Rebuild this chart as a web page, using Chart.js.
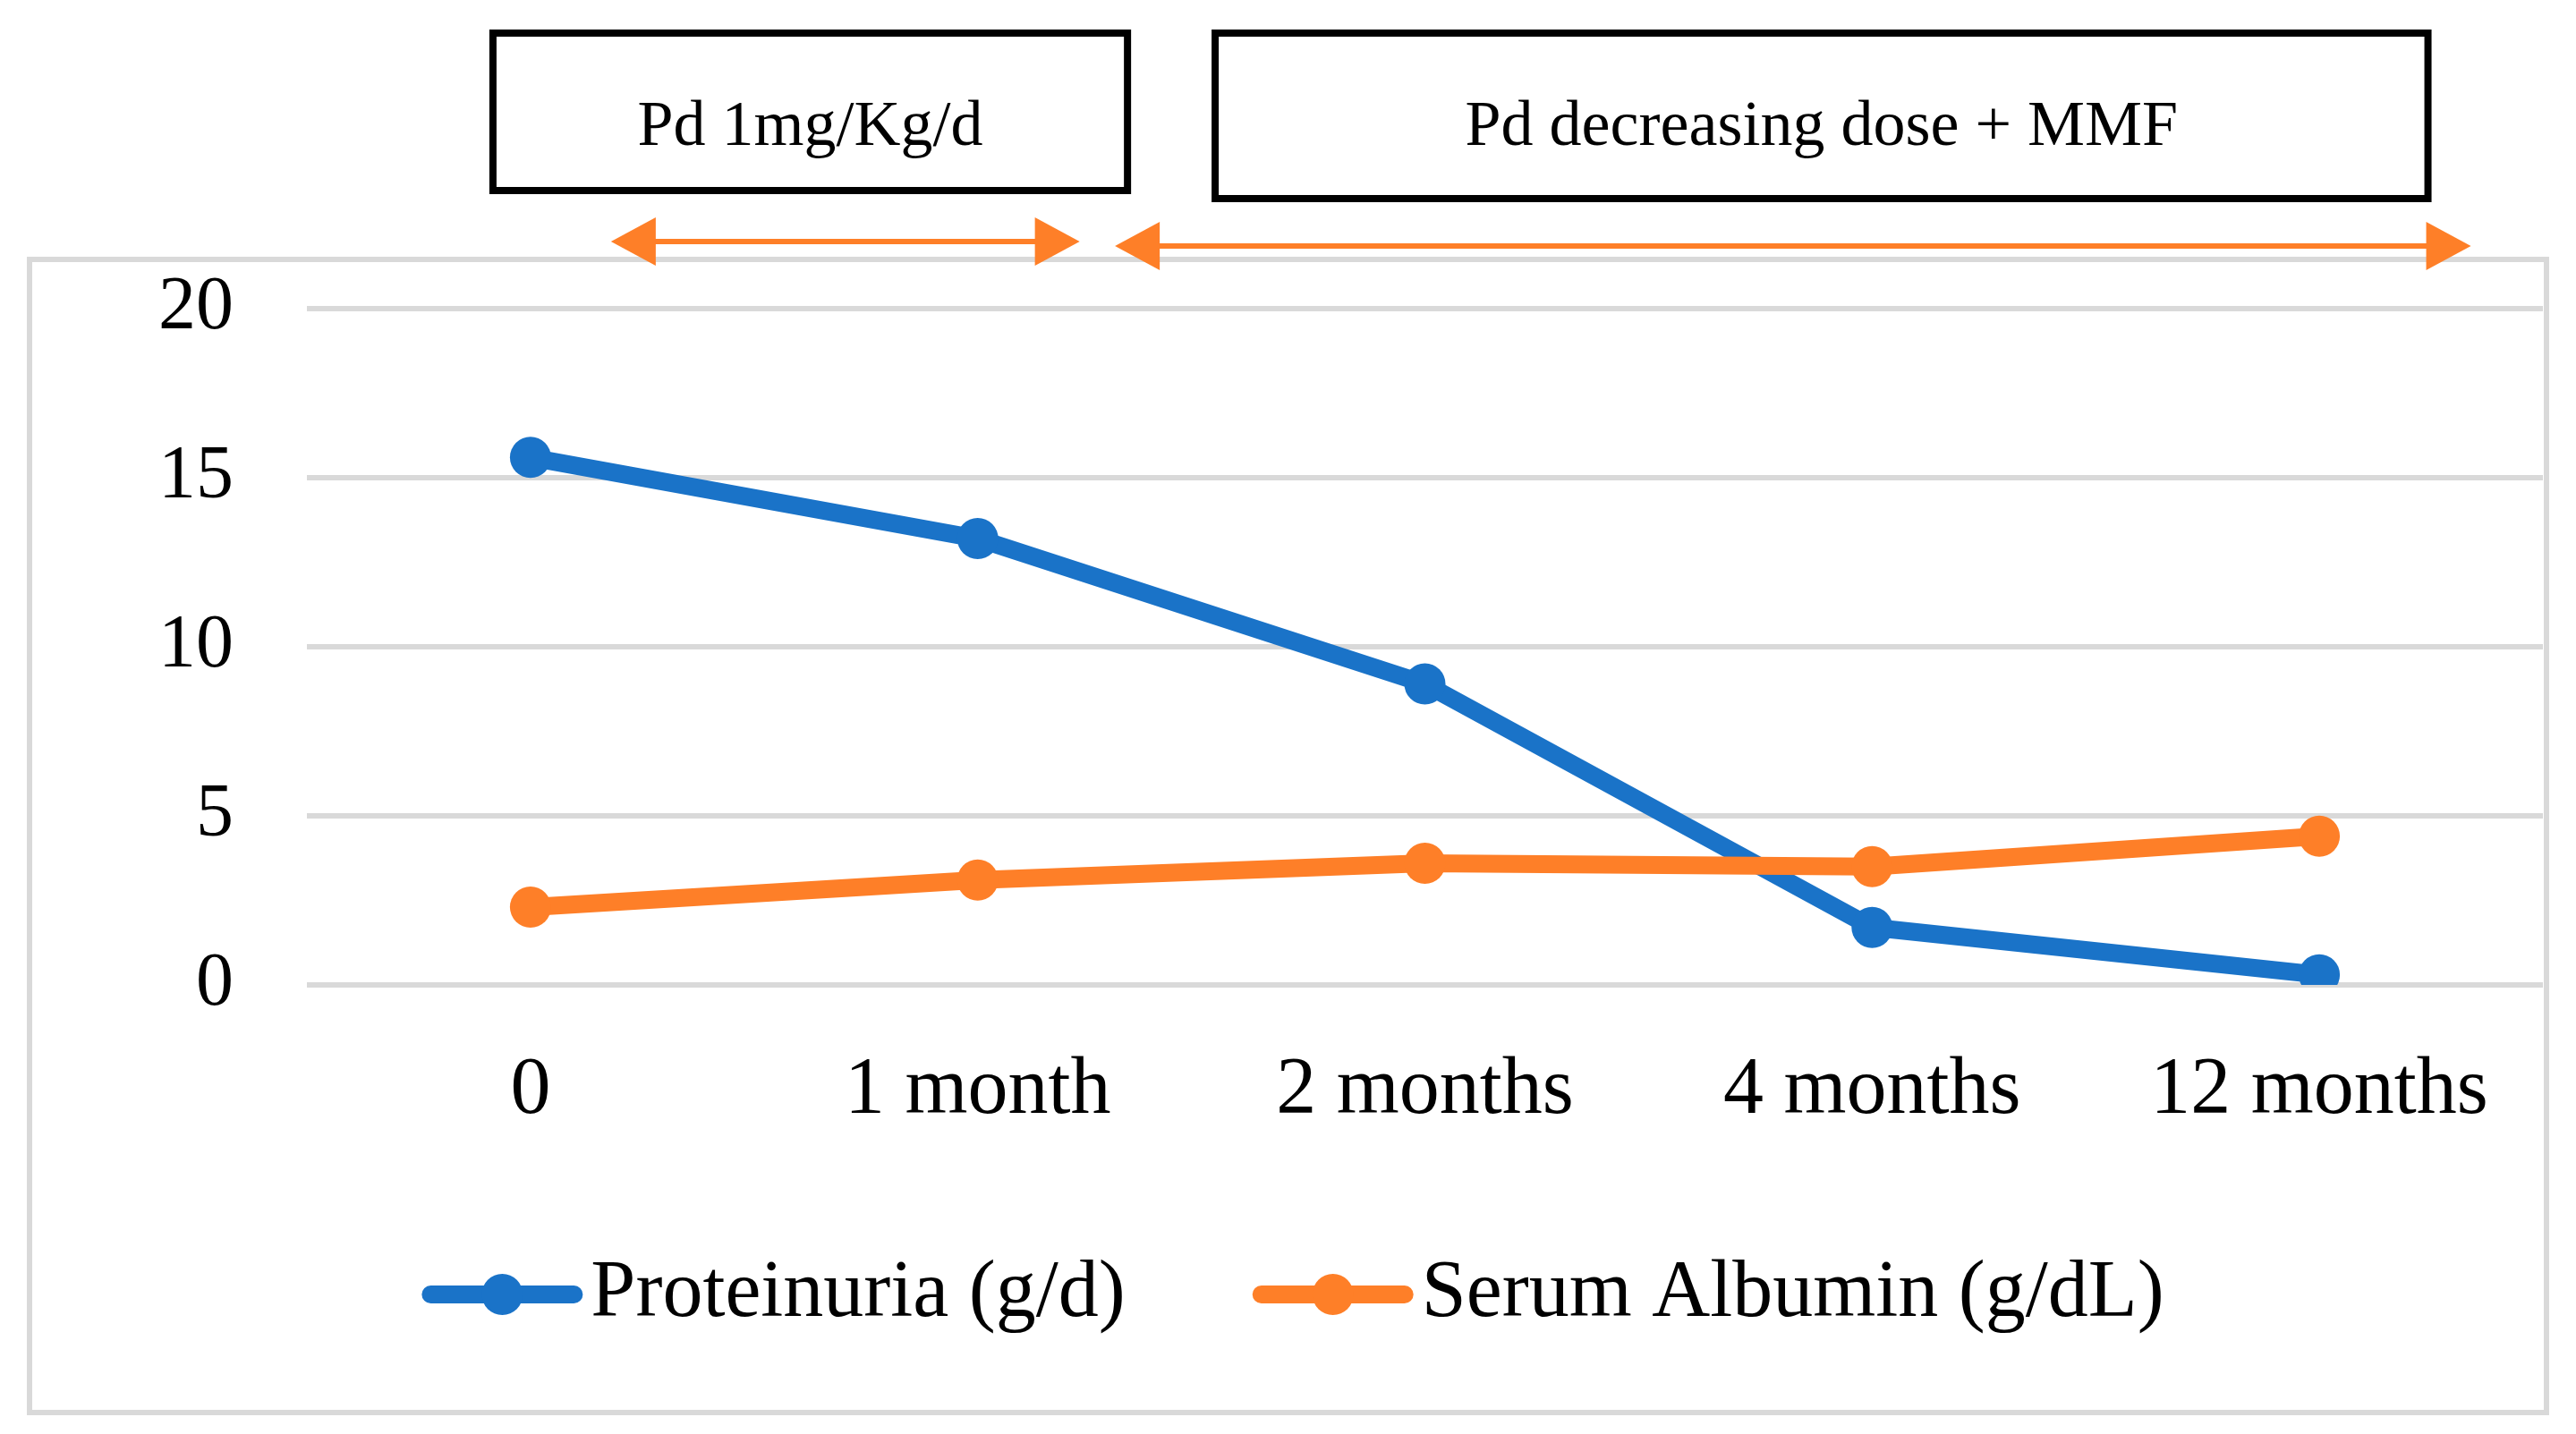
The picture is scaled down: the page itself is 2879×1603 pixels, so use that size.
<!DOCTYPE html>
<html>
<head>
<meta charset="utf-8">
<script src="https://cdn.jsdelivr.net/npm/chart.js@4/dist/chart.umd.min.js"></script>
<style>
  html, body { margin: 0; padding: 0; background: #fff; overflow: hidden; }
</style>
</head>
<body>
<canvas id="chart" width="2879" height="1603"></canvas>
<script>
// Data
const timepoints = ['0', '1 month', '2 months', '4 months', '12 months'];
const proteinuria = [15.6, 13.2, 8.9, 1.7, 0.3];
const serumAlbumin = [2.3, 3.1, 3.6, 3.5, 4.4];
const yTicks = [0, 5, 10, 15, 20];
const phaseLabels = ['Pd 1mg/Kg/d', 'Pd decreasing dose + MMF'];

const SERIF = "'Liberation Serif', 'Times New Roman', serif";
const BLUE = '#1a73c8';
const ORANGE = '#fe7f28';

Chart.defaults.font.family = SERIF;

// white background + light grey frame around the plot
const framePlugin = {
    id: 'frame',
    beforeDraw(chart) {
        const ctx = chart.ctx;
        ctx.save();
        ctx.fillStyle = '#fff';
        ctx.fillRect(0, 0, chart.width, chart.height);
        ctx.strokeStyle = '#d9d9d9';
        ctx.lineWidth = 6;
        ctx.strokeRect(33, 290, 2813, 1289);
        ctx.restore();
    }
};

// treatment phase boxes and arrows above the plot (x in category units)
const phasePlugin = {
    id: 'phases',
    afterDraw(chart) {
        const ctx = chart.ctx;
        const x = chart.scales.x;
        const boxes = [
            { from: -0.092, to: 1.343, top: 33, bottom: 217 },
            { from: 1.523, to: 4.251, top: 33, bottom: 226 }
        ];
        const arrows = [
            { from: 0.18, to: 1.228, y: 270 },
            { from: 1.307, to: 4.339, y: 275 }
        ];
        ctx.save();
        boxes.forEach((b, i) => {
            const l = x.getPixelForValue(b.from);
            const r = x.getPixelForValue(b.to);
            ctx.fillStyle = '#fff';
            ctx.fillRect(l, b.top, r - l, b.bottom - b.top);
            ctx.strokeStyle = '#000';
            ctx.lineWidth = 8;
            ctx.strokeRect(l + 4, b.top + 4, r - l - 8, b.bottom - b.top - 8);
            ctx.fillStyle = '#000';
            ctx.font = `72px ${SERIF}`;
            ctx.textAlign = 'center';
            ctx.textBaseline = 'middle';
            ctx.fillText(phaseLabels[i], (l + r) / 2, 143);
        });
        arrows.forEach(a => {
            const l = x.getPixelForValue(a.from);
            const r = x.getPixelForValue(a.to);
            const head = 50, half = 27;
            ctx.strokeStyle = ORANGE;
            ctx.fillStyle = ORANGE;
            ctx.lineWidth = 6;
            ctx.beginPath();
            ctx.moveTo(l + head - 2, a.y);
            ctx.lineTo(r - head + 2, a.y);
            ctx.stroke();
            ctx.beginPath();
            ctx.moveTo(l, a.y);
            ctx.lineTo(l + head, a.y - half);
            ctx.lineTo(l + head, a.y + half);
            ctx.closePath();
            ctx.fill();
            ctx.beginPath();
            ctx.moveTo(r, a.y);
            ctx.lineTo(r - head, a.y - half);
            ctx.lineTo(r - head, a.y + half);
            ctx.closePath();
            ctx.fill();
        });
        ctx.restore();
    }
};

// Excel-style legend: line with marker, then label
const legendPlugin = {
    id: 'lineLegend',
    afterDraw(chart) {
        const ctx = chart.ctx;
        ctx.save();
        ctx.font = `90px ${SERIF}`;
        const lineLen = 180, gap = 9, itemGap = 142;
        const items = chart.data.datasets.map(ds => ({
            label: ds.label,
            color: ds.borderColor,
            w: lineLen + gap + ctx.measureText(ds.label).width
        }));
        const total = items.reduce((s, it) => s + it.w, 0) + itemGap * (items.length - 1);
        let xPos = 1445 - total / 2;
        const y = 1447;
        items.forEach(it => {
            ctx.strokeStyle = it.color;
            ctx.fillStyle = it.color;
            ctx.lineWidth = 20;
            ctx.lineCap = 'round';
            ctx.beginPath();
            ctx.moveTo(xPos + 10, y);
            ctx.lineTo(xPos + lineLen - 10, y);
            ctx.stroke();
            ctx.beginPath();
            ctx.arc(xPos + lineLen / 2, y, 23, 0, Math.PI * 2);
            ctx.fill();
            ctx.fillStyle = '#000';
            ctx.textAlign = 'left';
            ctx.textBaseline = 'alphabetic';
            ctx.fillText(it.label, xPos + lineLen + gap, 1471);
            xPos += it.w + itemGap;
        });
        ctx.restore();
    }
};

new Chart(document.getElementById('chart'), {
    type: 'line',
    data: {
        labels: timepoints,
        datasets: [{
            label: 'Proteinuria (g/d)',
            data: proteinuria,
            borderColor: BLUE,
            backgroundColor: BLUE,
            borderWidth: 20,
            pointRadius: 23,
            pointBorderWidth: 0,
            borderJoinStyle: 'round',
            tension: 0,
            order: 1
        }, {
            label: 'Serum Albumin (g/dL)',
            data: serumAlbumin,
            borderColor: ORANGE,
            backgroundColor: ORANGE,
            borderWidth: 20,
            pointRadius: 23,
            pointBorderWidth: 0,
            borderJoinStyle: 'round',
            tension: 0,
            order: 0
        }]
    },
    options: {
        responsive: false,
        devicePixelRatio: 1,
        animation: false,
        layout: { padding: { top: 345, left: 33, right: 37, bottom: 302 } },
        plugins: {
            legend: { display: false },
            tooltip: { enabled: false }
        },
        scales: {
            x: {
                offset: true,
                grid: { display: false, drawTicks: false },
                border: { display: false },
                ticks: {
                    color: '#000',
                    font: { size: 90 },
                    padding: 65,
                    maxRotation: 0,
                    autoSkip: false
                },
                afterFit: s => { s.height = 200; }
            },
            y: {
                min: 0,
                max: 20,
                grid: { color: '#d9d9d9', lineWidth: 6, drawTicks: false },
                border: { display: false },
                ticks: {
                    color: '#000',
                    font: { size: 84 },
                    padding: 82
                },
                afterBuildTicks: s => { s.ticks = yTicks.map(v => ({ value: v })); },
                afterFit: s => { s.width = 310; }
            }
        }
    },
    plugins: [framePlugin, phasePlugin, legendPlugin]
});
</script>
</body>
</html>
